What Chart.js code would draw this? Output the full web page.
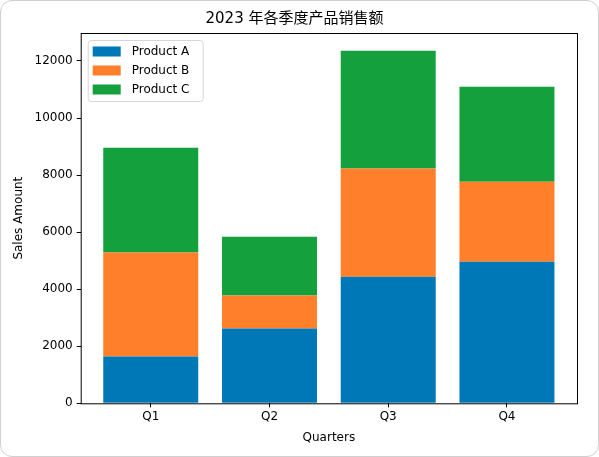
<!DOCTYPE html>
<html>
<head>
<meta charset="utf-8">
<script src="https://cdn.jsdelivr.net/npm/chart.js@4"></script>
<style>
  body { margin: 0; background: #fff; }
  .card { position: absolute; left: 0; top: 0; width: 599px; height: 457px; box-sizing: border-box;
          border: 1px solid #d0d0d0; border-radius: 12px; }
  canvas { position: absolute; left: 0; top: 0; }
</style>
</head>
<body>
<div class="card"></div>
<canvas id="salesChart" width="599" height="457"></canvas>
<script>
const quarters = ['Q1', 'Q2', 'Q3', 'Q4'];
const productA = [1640, 2620, 4440, 4960];
const productB = [3650, 1160, 3790, 2810];
const productC = [3670, 2060, 4130, 3330];
const yTicks = [0, 2000, 4000, 6000, 8000, 10000, 12000];

const FONT = '"DejaVu Sans", "Noto Sans CJK SC", sans-serif';
Chart.defaults.font.family = FONT;
Chart.defaults.color = '#000';

const toPoints = arr => arr.map((v, i) => ({ x: i, y: v }));

// frame round the plot + legend in the top-left corner
const framePlugin = {
  id: 'frame',
  afterDraw(chart) {
    const { ctx, chartArea: a } = chart;
    ctx.save();
    ctx.strokeStyle = '#000';
    ctx.lineWidth = 1;
    ctx.strokeRect(a.left + 0.5, a.top + 0.5, a.right - a.left, a.bottom - a.top);

    const x = a.left + 7, y = a.top + 7, w = 115, h = 61;
    ctx.fillStyle = 'rgba(255,255,255,0.8)';
    ctx.strokeStyle = '#d6d6d6';
    ctx.beginPath();
    ctx.roundRect(x + 0.5, y + 0.5, w, h, 3);
    ctx.fill();
    ctx.stroke();
    ctx.font = '12px ' + FONT;
    ctx.textBaseline = 'middle';
    chart.data.datasets.forEach((ds, i) => {
      const cy = y + 11.5 + i * 19;
      ctx.fillStyle = ds.backgroundColor;
      ctx.fillRect(x + 5, cy - 5, 28, 10);
      ctx.fillStyle = '#000';
      ctx.fillText(ds.label, x + 44, cy);
    });
    ctx.restore();
  }
};

new Chart(document.getElementById('salesChart'), {
  type: 'bar',
  data: {
    datasets: [
      { label: 'Product A', data: toPoints(productA), backgroundColor: '#0077b6' },
      { label: 'Product B', data: toPoints(productB), backgroundColor: '#ff7f2a' },
      { label: 'Product C', data: toPoints(productC), backgroundColor: '#14a03c' }
    ]
  },
  options: {
    responsive: false,
    animation: false,
    barPercentage: 1,
    categoryPercentage: 0.8,
    layout: { padding: { left: 12, right: 22, top: 0, bottom: 12 } },
    plugins: {
      legend: { display: false },
      tooltip: { enabled: false },
      title: {
        display: true,
        text: '2023 年各季度产品销售额',
        font: { size: 15, weight: 'normal' },
        padding: { top: 10, bottom: 5 }
      }
    },
    scales: {
      x: {
        type: 'linear',
        stacked: true,
        offset: false,
        min: -0.59,
        max: 3.59,
        afterBuildTicks: s => { s.ticks = quarters.map((q, i) => ({ value: i })); },
        afterFit: s => { s.height = 41.7; },
        ticks: { callback: v => quarters[v], font: { size: 12 }, padding: 2 },
        grid: { offset: false, drawOnChartArea: false, tickLength: 4, tickColor: '#000' },
        border: { display: false },
        title: { display: true, text: 'Quarters', font: { size: 12 }, padding: 0 }
      },
      y: {
        stacked: true,
        min: 0,
        max: 12980,
        afterBuildTicks: s => { s.ticks = yTicks.map(v => ({ value: v })); },
        afterFit: s => { s.width = 68.7; },
        ticks: { callback: v => String(v), font: { size: 12 }, padding: 4 },
        grid: { drawOnChartArea: false, tickLength: 4, tickColor: '#000' },
        border: { display: false },
        title: { display: true, text: 'Sales Amount', font: { size: 12 }, padding: 0 }
      }
    }
  },
  plugins: [framePlugin]
});
</script>
</body>
</html>
